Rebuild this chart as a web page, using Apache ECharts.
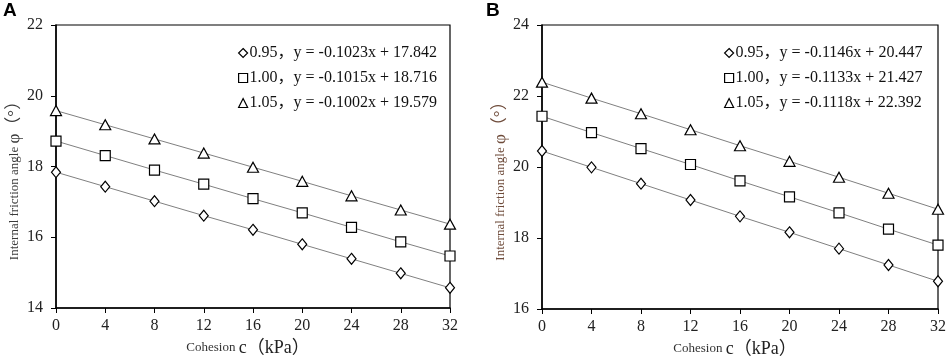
<!DOCTYPE html>
<html>
<head>
<meta charset="utf-8">
<script src="https://cdn.jsdelivr.net/npm/echarts@6/dist/echarts.min.js"></script>
<style>
  html, body { margin: 0; padding: 0; background: #fff; }
  #main { width: 948px; height: 356px; }
</style>
</head>
<body>
<div id="main"></div>
<script>
// cohesion c (kPa)
const cohesion = [0, 4, 8, 12, 16, 20, 24, 28, 32]
const levels = ['0.95', '1.00', '1.05']
const symbols = ['diamond', 'rect', 'triangle']

// panel A - internal friction angle
const aVals = [
  [17.84, 17.43, 17.02, 16.61, 16.21, 15.80, 15.39, 14.98, 14.57],
  [18.72, 18.31, 17.90, 17.50, 17.09, 16.69, 16.28, 15.87, 15.47],
  [19.58, 19.18, 18.78, 18.38, 17.98, 17.58, 17.17, 16.77, 16.37]
]
const aEq = ['y = -0.1023x + 17.842', 'y = -0.1015x + 18.716', 'y = -0.1002x + 19.579']

// panel B
const bVals = [
  [20.45, 19.99, 19.53, 19.07, 18.61, 18.16, 17.70, 17.24, 16.78],
  [21.43, 20.97, 20.52, 20.07, 19.61, 19.16, 18.71, 18.25, 17.80],
  [22.39, 21.94, 21.50, 21.05, 20.60, 20.16, 19.71, 19.26, 18.81]
]
const bEq = ['y = -0.1146x + 20.447', 'y = -0.1133x + 21.427', 'y = -0.1118x + 22.392']

const yTicksA = [14, 22, 2]
const yTicksB = [16, 24, 2]

const serif = '"Liberation Serif", "Noto Sans CJK SC", "Times New Roman", serif'
const myChart = echarts.init(document.getElementById('main'))

const series = []
const legends = []
const panels = [
  { vals: aVals, eq: aEq, legendLeft: 233 },
  { vals: bVals, eq: bEq, legendLeft: 719 }
]
panels.forEach((p, gi) => {
  const names = []
  p.vals.forEach((v, i) => {
    const name = levels[i] + '，' + p.eq[i]
    names.push({
      name: name,
      icon: symbols[i],
      itemStyle: { color: '#fff', borderColor: '#000', borderWidth: 1.2 }
    })
    series.push({
      name: name,
      type: 'line',
      xAxisIndex: gi,
      yAxisIndex: gi,
      data: cohesion.map((c, k) => [c, v[k]]),
      symbol: symbols[i],
      symbolSize: i === 0 ? [9, 11] : (i === 1 ? [10, 10] : [11, 10]),
      showAllSymbol: true,
      lineStyle: { color: '#808080', width: 1 },
      itemStyle: { color: '#fff', borderColor: '#000', borderWidth: 1.2 },
      emphasis: { disabled: true },
      z: 3
    })
  })
  legends.push({
    orient: 'vertical',
    left: p.legendLeft,
    top: 40,
    itemWidth: 9,
    itemHeight: 9,
    itemGap: 9,
    selectedMode: false,
    textStyle: { fontFamily: serif, fontSize: 16, color: '#111', padding: [0, 0, 0, -3] },
    data: names
  })
})

const xAxisCfg = (gi) => ({
  type: 'value',
  gridIndex: gi,
  min: 0,
  max: 32,
  interval: 4,
  name: '{a|Cohesion} {b|c（kPa）}',
  nameLocation: 'middle',
  nameGap: 31,
  nameTextStyle: {
    padding: [0, 10, 0, 0],
    rich: {
      a: { fontFamily: serif, fontSize: 13, color: '#333' },
      b: { fontFamily: serif, fontSize: 18, color: '#222' }
    }
  },
  axisLine: { lineStyle: { color: '#000', width: 1.5 } },
  axisTick: { show: true, length: 5, lineStyle: { color: '#000' } },
  axisLabel: { fontFamily: serif, fontSize: 16, color: '#222', margin: 10 },
  splitLine: { show: false }
})

const yAxisCfg = (gi, t, col) => ({
  type: 'value',
  gridIndex: gi,
  min: t[0],
  max: t[1],
  interval: t[2],
  name: '{a|Internal friction angle} {b|φ（°）}',
  nameLocation: 'middle',
  nameRotate: 90,
  nameGap: 32,
  nameTextStyle: {
    padding: [0, 20, 0, 0],
    rich: {
      a: { fontFamily: serif, fontSize: 13, color: col },
      b: { fontFamily: serif, fontSize: 17, color: col }
    }
  },
  axisLine: { lineStyle: { color: '#000', width: 1.5 } },
  axisTick: { show: true, length: 5, lineStyle: { color: '#000' } },
  axisLabel: { fontFamily: serif, fontSize: 16, color: '#222', margin: 13 },
  splitLine: { show: false }
})

const option = {
  animation: false,
  backgroundColor: '#fff',
  graphic: [
    { type: 'text', left: 3, top: 1, style: { text: 'A', font: 'bold 19px "Liberation Sans", Arial, sans-serif', fill: '#000' } },
    { type: 'text', left: 486, top: 1, style: { text: 'B', font: 'bold 19px "Liberation Sans", Arial, sans-serif', fill: '#000' } }
  ],
  legend: legends,
  grid: [
    { left: 56, top: 25, width: 394, height: 283, outerBoundsMode: 'none', show: true, borderColor: '#000', borderWidth: 1.2 },
    { left: 542, top: 25, width: 396, height: 284, outerBoundsMode: 'none', show: true, borderColor: '#000', borderWidth: 1.2 }
  ],
  xAxis: [xAxisCfg(0), xAxisCfg(1)],
  yAxis: [yAxisCfg(0, yTicksA, '#3a3a3a'), yAxisCfg(1, yTicksB, '#6e4b3a')],
  series: series
}
myChart.setOption(option)
</script>
</body>
</html>
